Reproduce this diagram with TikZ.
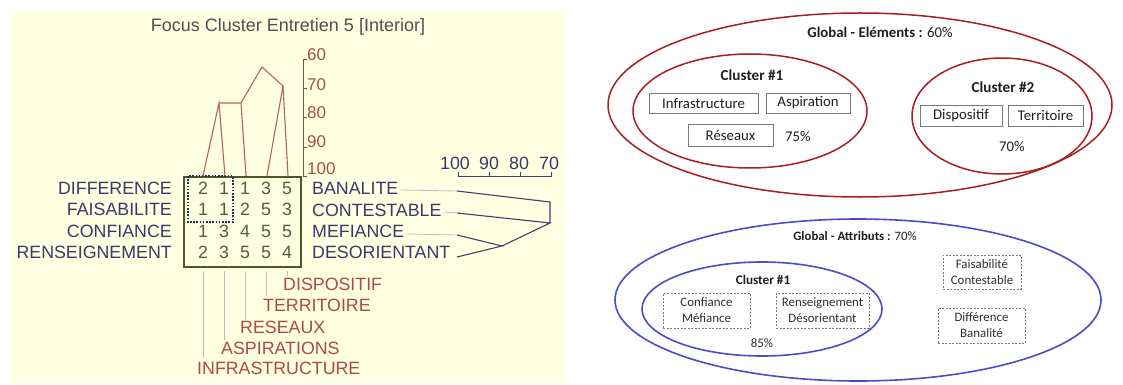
\documentclass[tikz,border=0pt]{standalone}
\usepackage{fontspec}
\setmainfont{Liberation Sans}
\newfontfamily\calib{Carlito}
\usetikzlibrary{shapes.geometric}
\definecolor{beige}{HTML}{FFFFE2}
\definecolor{navytxt}{HTML}{3A3A6A}
\definecolor{digit}{HTML}{4F6040}
\definecolor{brtxt}{HTML}{B04848}
\definecolor{axtxt}{HTML}{A85040}
\definecolor{dendc}{HTML}{B86060}
\definecolor{boxgreen}{HTML}{4A5A2A}
\definecolor{dotnavy}{HTML}{1F2F5F}
\definecolor{leadgrey}{HTML}{BBBBBB}
\definecolor{dendr}{HTML}{40406A}
\definecolor{titlegrey}{HTML}{505050}
\definecolor{ellred}{HTML}{A81E1E}
\definecolor{ellblue}{HTML}{4B4BC8}
\definecolor{boxgrey}{HTML}{7A7A7A}
\begin{document}
\begin{tikzpicture}[x=1pt,y=-1pt,
  lbl/.style={inner sep=0pt, font=\fontsize{17.8}{18}\selectfont},
  navylbl/.style={lbl, text=navytxt},
  redlbl/.style={lbl, text=brtxt},
  dig/.style={lbl, text=digit},
  axlbl/.style={inner sep=0pt, font=\fontsize{17}{17}\selectfont, text=axtxt, anchor=west},
  dend/.style={draw=dendc, line width=1.1pt},
  leader/.style={draw=leadgrey, line width=0.8pt},
  dendright/.style={draw=dendr, line width=1.1pt},
  redell/.style={draw=ellred, line width=1.5pt},
  blueell/.style={draw=ellblue, line width=1.6pt},
  elbox/.style={draw=boxgrey, line width=0.8pt, inner sep=0pt, font=\calib\fontsize{14.8}{16}\selectfont, text=black!88},
  atbox/.style={draw=boxgrey, dashed, dash pattern=on 2pt off 1.5pt, line width=0.8pt, inner sep=0pt, align=center, font=\calib\fontsize{12.9}{16}\selectfont, text=black!82},
  ptxt/.style={inner sep=0pt, font=\calib\fontsize{14.8}{16}\selectfont, text=black!88},
]
\useasboundingbox (0,0) rectangle (1123,385);
% ---------------- left panel ----------------
\fill[beige] (10,10) rectangle (566,383);
\node[inner sep=0pt, text=titlegrey, font=\fontsize{18}{18}\selectfont] (title) at (288,27) {Focus Cluster Entretien 5 [Interior]};

% vertical axis
\draw[draw=axtxt!90!black, line width=1pt] (307,60) -- (303,60) -- (303,176) -- (307,176);
\foreach \yy in {89,118,147} \draw[draw=axtxt!90!black, line width=1pt] (303,\yy) -- (307,\yy);
\node[axlbl] (a60) at (307,55) {60};
\node[axlbl] (a70) at (307,85) {70};
\node[axlbl] (a80) at (307,113) {80};
\node[axlbl] (a90) at (307,142) {90};
\node[axlbl] (a100) at (307,169) {100};

% grid box
\node[draw=boxgreen, line width=1.3pt, minimum width=117pt, minimum height=90pt, inner sep=0pt] (grid) at (242.5,222) {};
\draw[draw=dotnavy, line width=2pt, dash pattern=on 1.6pt off 1.6pt] (188,176) rectangle (233,222);

% digits
\foreach \row/\yy/\vals in {1/188/{2,1,1,3,5},2/209/{1,1,2,5,3},3/231/{1,3,4,5,5},4/252/{2,3,5,5,4}}{
  \foreach \v [count=\c] in \vals {
    \pgfmathsetmacro{\xx}{182+21*\c}
    \node[dig] (d\row\c) at (\xx,\yy) {\v};
  }
}

% row labels
\node[navylbl, anchor=east] (difference) at (172,188) {DIFFERENCE};
\node[navylbl, anchor=east] (faisabilite) at (172,209) {FAISABILITE};
\node[navylbl, anchor=east] (confiance) at (172,231) {CONFIANCE};
\node[navylbl, anchor=east] (renseignement) at (172,252) {RENSEIGNEMENT};
\node[navylbl, anchor=west] (banalite) at (312,188) {BANALITE};
\node[navylbl, anchor=west] (contestable) at (312,210) {CONTESTABLE};
\node[navylbl, anchor=west] (mefiance) at (312,231) {MEFIANCE};
\node[navylbl, anchor=west] (desorientant) at (312,252) {DESORIENTANT};

% column labels
\node[redlbl, anchor=west] (dispositif) at (283,284) {DISPOSITIF};
\node[redlbl, anchor=west] (territoire) at (263,305) {TERRITOIRE};
\node[redlbl, anchor=west] (reseaux) at (240,327) {RESEAUX};
\node[redlbl, anchor=west] (aspirations) at (221,348) {ASPIRATIONS};
\node[redlbl, anchor=west] (infrastructure) at (197,368) {INFRASTRUCTURE};

% column leader lines
\coordinate (c1) at (203,271); \coordinate (c2) at (224,271); \coordinate (c3) at (245,271);
\coordinate (c4) at (266,271); \coordinate (c5) at (287,271);
\draw[leader] (c1) -- (c1 |- 0,358);
\draw[leader] (c2) -- (c2 |- 0,340);
\draw[leader] (c3) -- (c3 |- 0,320);
\draw[leader] (c4) -- (c4 |- 0,296);
\draw[leader] (c5) -- (c5 |- 0,276);

% column dendrogram
\coordinate (t1) at (203,176); \coordinate (t2) at (225,176); \coordinate (t3) at (246,176);
\coordinate (t4) at (267,176); \coordinate (t5) at (288,176);
\coordinate (j12) at (219,103); \coordinate (j123) at (241,103);
\coordinate (apex) at (262,67); \coordinate (j45) at (283,86);
\draw[dend] (t1) -- (j12) -- (t2);
\draw[dend] (j12) -- (j123) -- (t3);
\draw[dend] (j123) -- (apex) -- (j45) -- (t4);
\draw[dend] (j45) -- (t5);

% scale
\draw[draw=dendr, line width=1pt] (458,172) -- (458,176) -- (551,176) -- (551,172);
\draw[draw=dendr, line width=1pt] (489,176) -- (489,172) (520,176) -- (520,172);
\node[navylbl] (s100) at (455,163) {100};
\node[navylbl] (s90) at (489,163) {90};
\node[navylbl] (s80) at (519,163) {80};
\node[navylbl] (s70) at (549,163) {70};

% row dendrogram
\coordinate (rb) at (457,191); \coordinate (rc) at (457,213); \coordinate (rm) at (457,235); \coordinate (rd) at (457,257);
\coordinate (jbc) at (550,202); \coordinate (jall) at (550,223); \coordinate (jmd) at (502,246);
\draw[leader] (banalite.east) ++(2,2) -- (rb);
\draw[leader] (contestable.east) ++(2,2) -- (rc);
\draw[leader] (mefiance.east) ++(2,3) -- (rm);
\draw[dendright] (rb) -- (jbc) -- (jall);
\draw[dendright] (rc) -- (jall) -- (jmd);
\draw[dendright] (rm) -- (jmd) -- (rd);

% ---------------- right panel: elements ----------------
\draw[redell] (860,105) ellipse [x radius=252, y radius=92];
\node[inner sep=0pt, font=\calib\fontsize{14.8}{16}\selectfont, text=black!88] (gel) at (880,32) {\textbf{Global - Eléments :} 60\%};
\draw[redell] (750,111) ellipse [x radius=117, y radius=57];
\node[inner sep=0pt, font=\calib\bfseries\fontsize{15.2}{16}\selectfont, text=black!88] (cl1) at (752,75) {Cluster \#1};
\node[elbox, minimum width=109pt, minimum height=20pt] (binfra) at (703.5,103) {Infrastructure};
\node[elbox, minimum width=84pt, minimum height=20pt] (basp) at (808,103) {Aspiration};
\node[elbox, minimum width=85pt, minimum height=22pt] (bres) at (730.5,135) {Réseaux};
\node[ptxt] (p75) at (798,137) {75\%};
\draw[redell] (1002,116) ellipse [x radius=90, y radius=58];
\node[inner sep=0pt, font=\calib\bfseries\fontsize{15.2}{16}\selectfont, text=black!88] (cl2) at (1003,87) {Cluster \#2};
\node[elbox, minimum width=82pt, minimum height=21pt] (bdisp) at (961,115.5) {Dispositif};
\node[elbox, minimum width=75pt, minimum height=21pt] (bterr) at (1045.5,115.5) {Territoire};
\node[ptxt] (p70) at (1012,147) {70\%};

% ---------------- right panel: attributes ----------------
\draw[blueell] (858,300) ellipse [x radius=243, y radius=81];
\node[inner sep=0pt, font=\calib\fontsize{12.8}{16}\selectfont, text=black!88] (gat) at (855,236) {\textbf{Global - Attributs :} 70\%};
\draw[blueell] (762,309) ellipse [x radius=120, y radius=47];
\node[inner sep=0pt, font=\calib\bfseries\fontsize{13.2}{16}\selectfont, text=black!88] (acl1) at (763,280) {Cluster \#1};
\node[atbox, minimum width=87pt, minimum height=35pt] (bconf) at (706.5,310.5) {Confiance\\Méfiance};
\node[atbox, minimum width=93pt, minimum height=35pt] (brens) at (822.5,310.5) {Renseignement\\Désorientant};
\node[inner sep=0pt, font=\calib\fontsize{12.9}{16}\selectfont, text=black!82] (p85) at (762,343) {85\%};
\node[atbox, minimum width=78pt, minimum height=34pt] (bfais) at (982,272) {Faisabilité\\Contestable};
\node[atbox, minimum width=87pt, minimum height=35pt] (bdiff) at (981.5,325.5) {Différence\\Banalité};
\end{tikzpicture}
\end{document}
